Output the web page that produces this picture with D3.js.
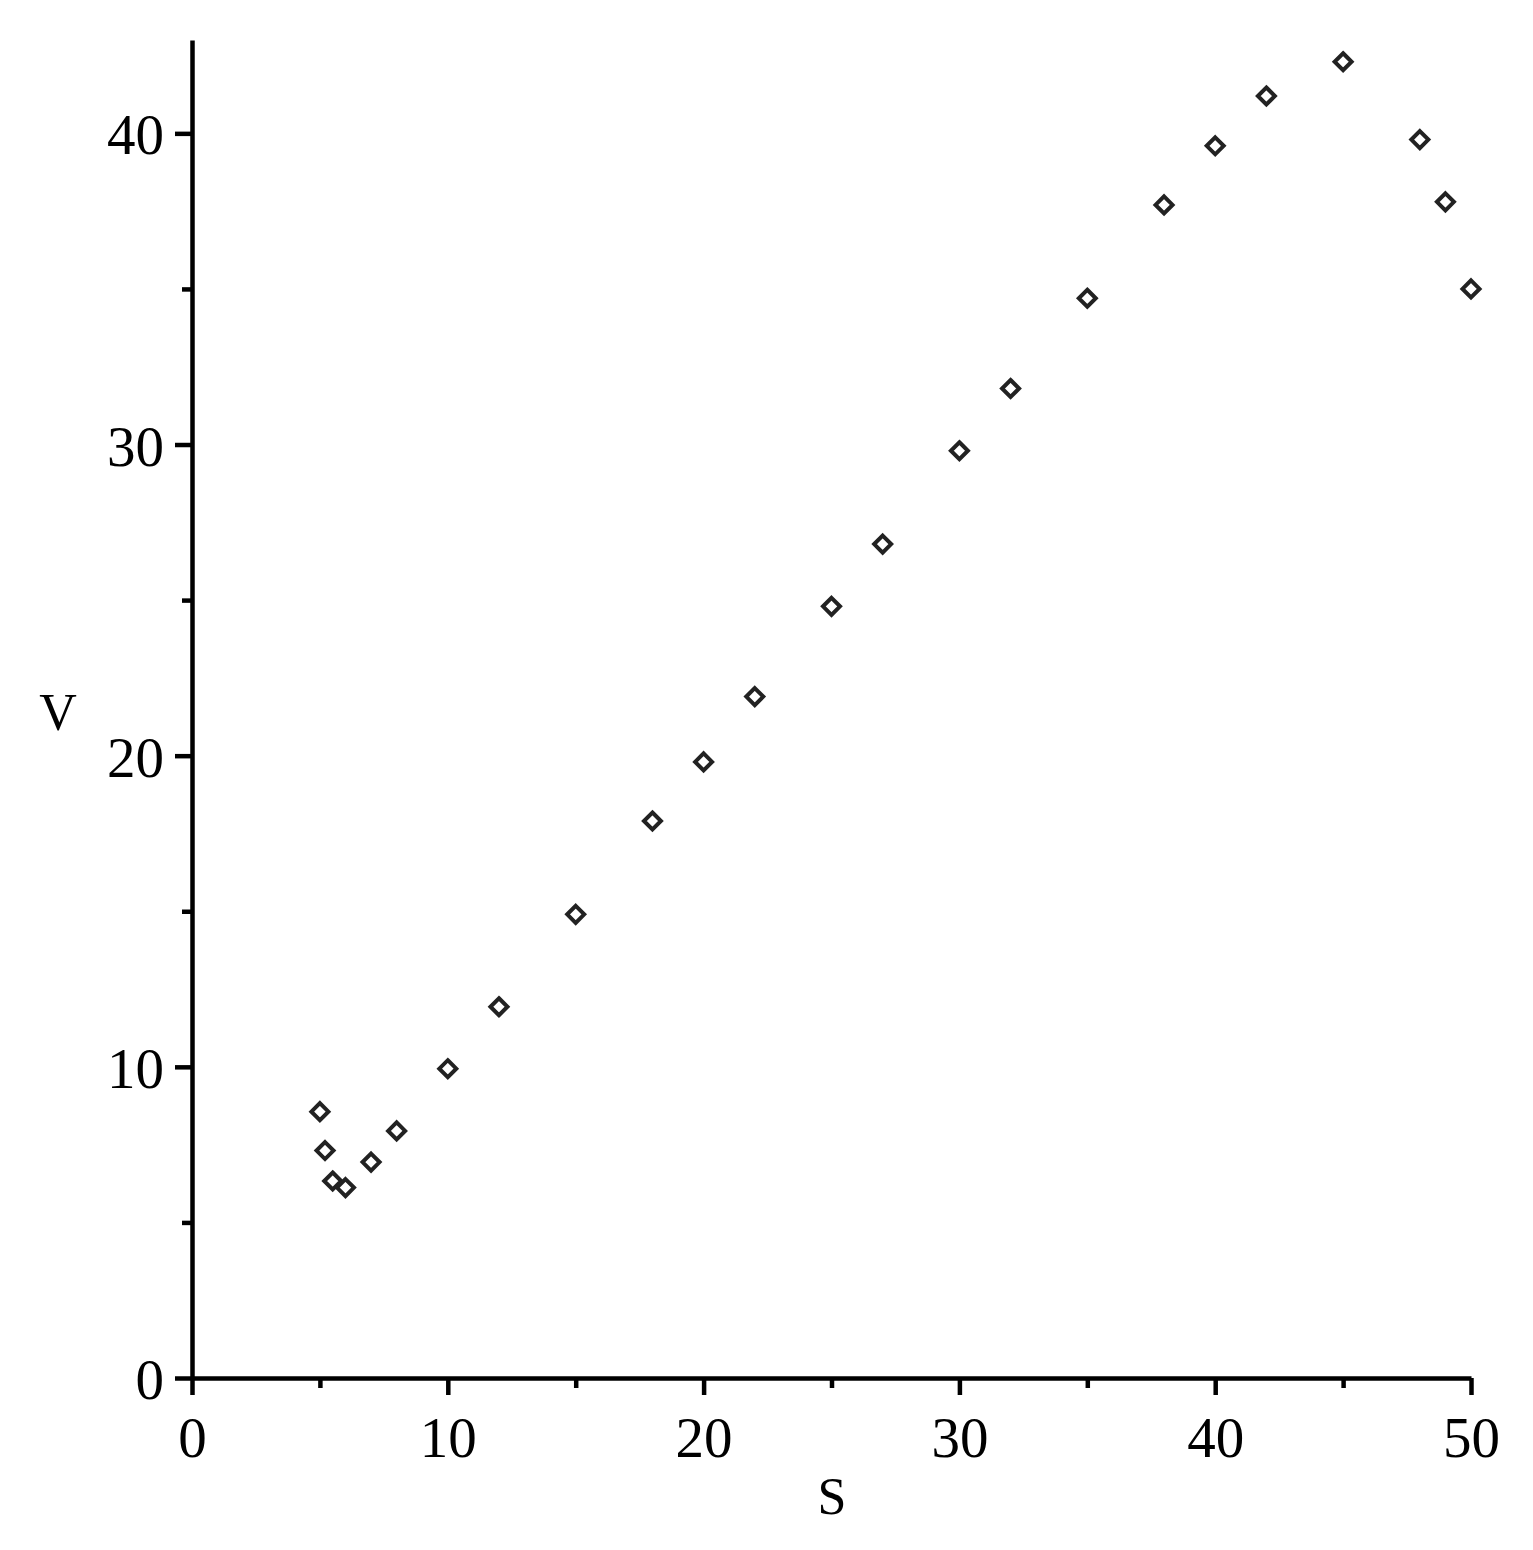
<!DOCTYPE html>
<html>
<head>
<meta charset="utf-8">
<script src="https://cdn.jsdelivr.net/npm/d3@7"></script>
<style>
  html, body { margin: 0; padding: 0; background: #ffffff; }
  svg { display: block; }
</style>
</head>
<body>
<svg id="chart" width="1533" height="1550"></svg>
<script>
// ---- Data ----
const sValues = [5, 5.2, 5.5, 6, 7, 8, 10, 12, 15, 18, 20, 22, 25, 27, 30, 32, 35, 38, 40, 42, 45, 48, 49, 50];
const vValues = [8.56, 7.31, 6.33, 6.12, 6.94, 7.94, 9.94, 11.93, 14.9, 17.9, 19.8, 21.9, 24.8, 26.8, 29.8, 31.8, 34.7, 37.7, 39.6, 41.2, 42.3, 39.8, 37.8, 35.0];
const xTicks = [0, 10, 20, 30, 40, 50];
const xMinorTicks = [5, 15, 25, 35, 45];
const yTicks = [0, 10, 20, 30, 40];
const yMinorTicks = [5, 15, 25, 35];
const xLabel = "S";
const yLabel = "V";

const points = sValues.map((s, i) => ({ s: s, v: vValues[i] }));

const svg = d3.select("#chart");
const x = d3.scaleLinear().domain([0, 50]).range([192, 1471]);
const y = d3.scaleLinear().domain([0, 43]).range([1378, 40]);

const font = "'Liberation Serif', 'Times New Roman', serif";
const lw = 4.5;

// Minor ticks
svg.append("g")
  .attr("transform", `translate(0,${y(0)})`)
  .call(d3.axisBottom(x).tickValues(xMinorTicks).tickSize(10).tickSizeOuter(0).tickFormat(""))
  .call(g => g.select(".domain").remove())
  .call(g => g.selectAll("line").attr("stroke", "#000").style("stroke-width", lw + "px"));
svg.append("g")
  .attr("transform", `translate(${x(0)},0)`)
  .call(d3.axisLeft(y).tickValues(yMinorTicks).tickSize(10).tickSizeOuter(0).tickFormat(""))
  .call(g => g.select(".domain").remove())
  .call(g => g.selectAll("line").attr("stroke", "#000").style("stroke-width", lw + "px"));

// Major x axis
const gx = svg.append("g")
  .attr("transform", `translate(0,${y(0)})`)
  .call(d3.axisBottom(x).tickValues(xTicks).tickSize(17).tickSizeOuter(0).tickPadding(22).tickFormat(d3.format("d")));
gx.select(".domain").attr("stroke", "#000").style("stroke-width", lw + "px");
gx.selectAll("line").attr("stroke", "#000").style("stroke-width", lw + "px");
gx.selectAll("text")
  .attr("font-family", font).attr("font-size", 57).attr("fill", "#000");

// Major y axis
const gy = svg.append("g")
  .attr("transform", `translate(${x(0)},0)`)
  .call(d3.axisLeft(y).tickValues(yTicks).tickSize(17).tickSizeOuter(0).tickPadding(11).tickFormat(d3.format("d")));
gy.select(".domain").attr("stroke", "#000").style("stroke-width", lw + "px");
gy.selectAll("line").attr("stroke", "#000").style("stroke-width", lw + "px");
gy.selectAll("text")
  .attr("font-family", font).attr("font-size", 57).attr("fill", "#000")
  .attr("dy", "0.36em");

// Axis labels
svg.append("text")
  .attr("x", 832).attr("y", 1514)
  .attr("text-anchor", "middle")
  .attr("font-family", font).attr("font-size", 52).attr("fill", "#000")
  .text(xLabel);
svg.append("text")
  .attr("x", 58).attr("y", 730)
  .attr("text-anchor", "middle")
  .attr("font-family", font).attr("font-size", 52).attr("fill", "#000")
  .text(yLabel);

// Diamond markers
const r = 8.5;
svg.append("g")
  .selectAll("path")
  .data(points)
  .join("path")
  .attr("d", d => {
    const cx = x(d.s), cy = y(d.v);
    return `M${cx},${cy - r}L${cx + r},${cy}L${cx},${cy + r}L${cx - r},${cy}Z`;
  })
  .attr("fill", "#ffffff")
  .attr("stroke", "#222222")
  .style("stroke-width", "4px");
</script>
</body>
</html>
